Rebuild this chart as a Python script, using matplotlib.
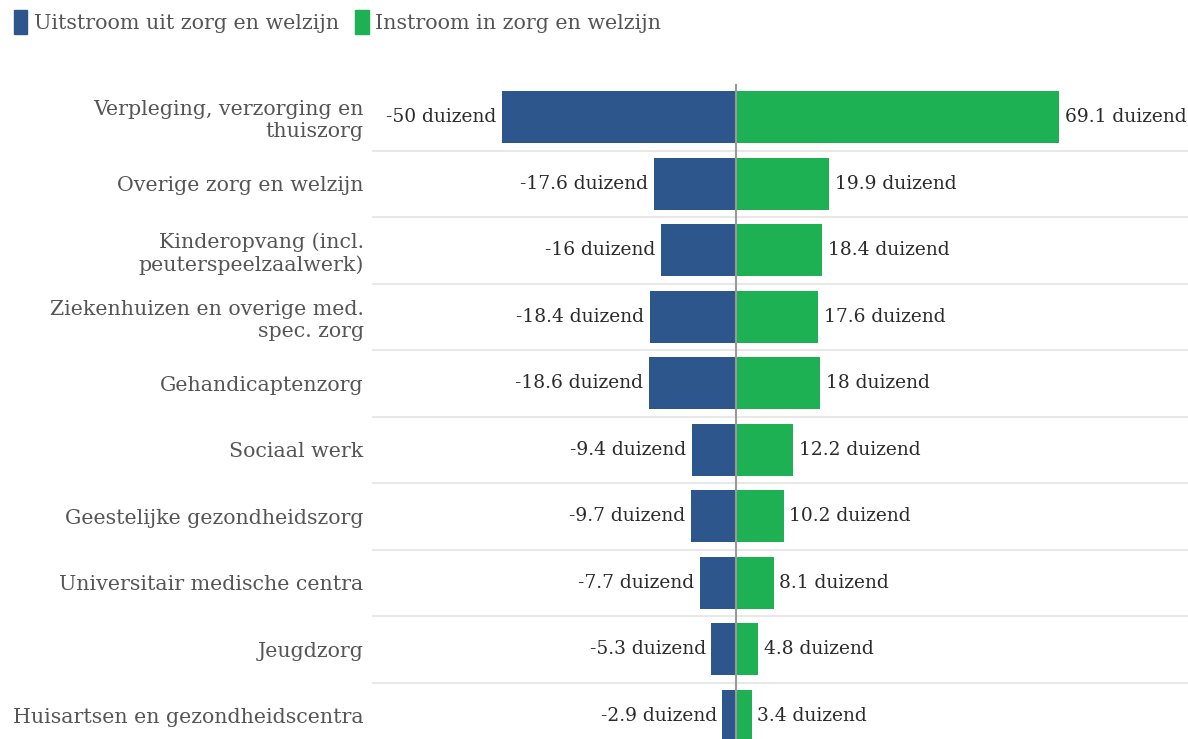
import matplotlib.pyplot as plt
from matplotlib.patches import Patch

categories = [
    "Verpleging, verzorging en\nthuiszorg",
    "Overige zorg en welzijn",
    "Kinderopvang (incl.\npeuterspeelzaalwerk)",
    "Ziekenhuizen en overige med.\nspec. zorg",
    "Gehandicaptenzorg",
    "Sociaal werk",
    "Geestelijke gezondheidszorg",
    "Universitair medische centra",
    "Jeugdzorg",
    "Huisartsen en gezondheidscentra",
]
uitstroom = [-50, -17.6, -16, -18.4, -18.6, -9.4, -9.7, -7.7, -5.3, -2.9]
instroom = [69.1, 19.9, 18.4, 17.6, 18, 12.2, 10.2, 8.1, 4.8, 3.4]

blue = "#2d578c"
green = "#1db153"

plt.rcParams['font.family'] = ['DejaVu Serif']

fig = plt.figure(figsize=(11.88, 7.39), dpi=100)
# axes from x=372px to right edge, rows of ~66.6px, last row cut off at bottom
ax = fig.add_axes([372 / 1188, -10 / 739, 1 - 372 / 1188, 665 / 739])

y = list(range(len(categories)))
b1 = ax.barh(y, uitstroom, height=0.78, color=blue, zorder=2)
b2 = ax.barh(y, instroom, height=0.78, color=green, zorder=2)

ax.bar_label(b1, labels=[f"{v:g} duizend" for v in uitstroom], padding=4,
             fontsize=13.4, color="#2a2a2a")
ax.bar_label(b2, labels=[f"{v:g} duizend" for v in instroom], padding=4,
             fontsize=13.4, color="#2a2a2a")

ax.set_xlim((372 - 736) / 4.68, (1188 - 736) / 4.68)
ax.set_ylim(9.5, -0.5)

for i in range(len(categories) - 1):
    ax.axhline(i + 0.5, color="#e8e8e8", lw=1.5, zorder=1)
ax.axvline(0, color="#999999", lw=1.5, zorder=3)

ax.set_yticks(y)
ax.set_yticklabels(categories, fontsize=14.8, color="#555555", ha="right",
                   multialignment="right", linespacing=1.2)
ax.tick_params(axis="y", length=0, pad=6)
ax.set_xticks([])
for s in ax.spines.values():
    s.set_visible(False)

handles = [Patch(color=blue, label="Uitstroom uit zorg en welzijn"),
           Patch(color=green, label="Instroom in zorg en welzijn")]
fig.legend(handles=handles, loc="upper left", bbox_to_anchor=(-0.004, 1.012),
           ncol=2, frameon=False, fontsize=14.9, handlelength=0.65,
           handleheight=1.4, handletextpad=0.3, columnspacing=0.8,
           labelcolor="#555555")

fig.savefig("out.png", dpi=100)
